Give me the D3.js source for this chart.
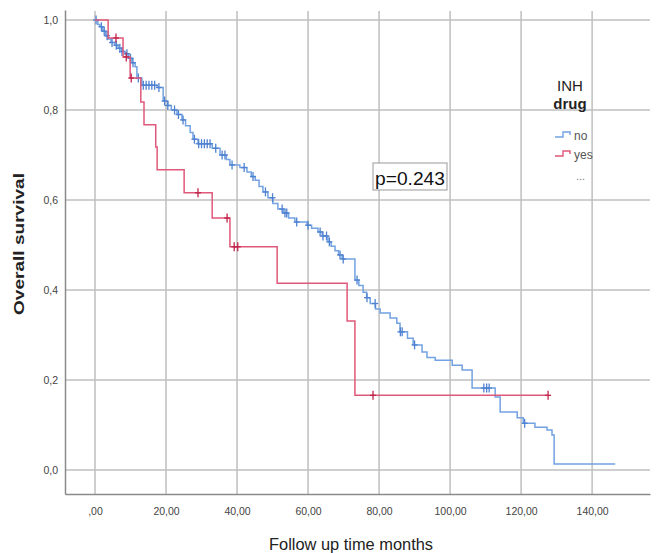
<!DOCTYPE html>
<meta charset="utf-8">
<style>
body { margin: 0; background: #fff; font-family: "Liberation Sans", Arial, sans-serif; }
.grid line { stroke: #bfbfbf; stroke-width: 1.5px; }
.tick text { fill: #444; font-size: 10.5px; font-family: "Liberation Sans Narrow", "Liberation Sans", Arial, sans-serif; }
</style>
<body>
<script src="https://cdnjs.cloudflare.com/ajax/libs/d3/7.8.5/d3.min.js"></script>
<script>
// Kaplan-Meier steps: [time (months), survival after the event]
var noSteps = [[0,1],[0.8,0.99],[1.4,0.985],[2.2,0.975],[3.0,0.965],[3.6,0.958],[4.5,0.95],[5.6,0.944],
  [6.5,0.937],[7.5,0.93],[8.5,0.925],[9.5,0.915],[10.4,0.905],[11.3,0.896],[11.8,0.871],[13.2,0.855],
  [17.5,0.85],[19.2,0.82],[20.5,0.81],[21.5,0.8],[23.1,0.79],[24.5,0.778],[25.5,0.765],[26.8,0.75],
  [27.6,0.735],[29,0.725],[33,0.715],[35.2,0.70],[37,0.69],[38.0,0.678],[40.8,0.672],[42.8,0.662],
  [44,0.652],[45.1,0.644],[46.2,0.63],[47.3,0.618],[48.7,0.605],[50.1,0.592],[51.5,0.58],[53,0.571],
  [54.5,0.56],[56.3,0.551],[59.7,0.544],[61,0.537],[62.8,0.529],[64,0.52],[65.6,0.507],[66.5,0.497],
  [67.6,0.487],[68.6,0.478],[69.6,0.469],[73.2,0.422],[74.3,0.41],[75.5,0.395],[76.5,0.383],[77.5,0.37],
  [79,0.358],[80.3,0.349],[83.1,0.338],[85,0.326],[85.9,0.307],[88,0.293],[89.6,0.278],[92.1,0.262],
  [93.5,0.25],[95.8,0.244],[100.6,0.233],[103.4,0.222],[106.2,0.182],[112.7,0.162],[114.1,0.129],
  [118.9,0.116],[120.6,0.104],[123.9,0.095],[127.3,0.089],[128.7,0.078],[129.3,0.0135]];
var noEnd = 146.5;
var noCensored = [0.3,1.8,2.6,3.4,4.8,6,7,7.6,9,10,10.7,12.2,13.6,14.4,15.2,16,16.8,18,19.6,20.5,22.4,
  23.5,24.8,28,29.2,30,30.8,31.6,32.4,34,35.8,36.6,38.6,42,44.5,48,50,52.7,53.5,54,56.8,60,63.4,64.2,
  65.2,66,69,69.9,73.8,76.6,78.9,86,86.5,90,109.5,110.3,111,121];

var yesSteps = [[0,1],[3.7,0.96],[7.9,0.918],[9.9,0.871],[12.9,0.818],[13.8,0.767],[17.1,0.718],
  [17.5,0.667],[25.1,0.616],[33,0.56],[38,0.496],[51.3,0.415],[71,0.331],[73.2,0.166]];
var yesEnd = 127.6;
var yesCensored = [5.9,8.8,10.2,29,37.2,39.2,40.2,78.3,127.6];

var xTicks = [0,20,40,60,80,100,120,140];
var xTickLabels = [",00","20,00","40,00","60,00","80,00","100,00","120,00","140,00"];
var yTicks = [0,0.2,0.4,0.6,0.8,1.0];
var yTickLabels = ["0,0","0,2","0,4","0,6","0,8","1,0"];

var width = 656, height = 553;
var pLeft = 65, pRight = 650, pTop = 11, pBottom = 494;

var svg = d3.select("body").append("svg")
    .attr("width", width)
    .attr("height", height);

var x = d3.scaleLinear().domain([-8.45, 156.3]).range([pLeft, pRight]);
var y = d3.scaleLinear().domain([-0.0533, 1.0222]).range([pBottom, 10]);

// grid
var grid = svg.append("g").attr("class", "grid");
grid.selectAll(".gx").data(xTicks).enter().append("line")
    .attr("x1", function(d) { return x(d); }).attr("x2", function(d) { return x(d); })
    .attr("y1", pTop).attr("y2", pBottom);
grid.selectAll(".gy").data(yTicks).enter().append("line")
    .attr("x1", pLeft).attr("x2", pRight)
    .attr("y1", function(d) { return y(d); }).attr("y2", function(d) { return y(d); });

// axes
svg.append("g")
    .attr("transform", "translate(0," + pBottom + ")")
    .call(d3.axisBottom(x).tickValues(xTicks).tickSize(0).tickPadding(14)
        .tickFormat(function(d, i) { return xTickLabels[i]; }))
    .call(function(g) { g.select(".domain").attr("stroke", "#8a8a8a").attr("stroke-width", 1.5); });

svg.append("g")
    .attr("transform", "translate(" + pLeft + ",0)")
    .call(d3.axisLeft(y).tickValues(yTicks).tickSize(0).tickPadding(7)
        .tickFormat(function(d, i) { return yTickLabels[i]; }))
    .call(function(g) { g.select(".domain").attr("stroke", "#8a8a8a").attr("stroke-width", 1.5); });

// step paths
function stepPath(steps, end) {
    var pts = steps.map(function(d) { return [x(d[0]), y(d[1])]; });
    pts.push([x(end), y(steps[steps.length - 1][1])]);
    return d3.line().curve(d3.curveStepAfter)(pts);
}
function survAt(steps, t) {
    var s = 1;
    steps.forEach(function(d) { if (d[0] <= t) s = d[1]; });
    return s;
}

function drawGroup(steps, end, censored, color, markColor) {
    svg.append("path")
        .attr("d", stepPath(steps, end))
        .attr("fill", "none")
        .attr("stroke", color)
        .attr("stroke-width", 1.5);
    var marks = svg.append("g").attr("stroke", markColor).attr("stroke-width", 1.3);
    marks.selectAll("line.v").data(censored).enter().append("line")
        .attr("x1", function(d) { return x(d); }).attr("x2", function(d) { return x(d); })
        .attr("y1", function(d) { return y(survAt(steps, d)) - 4.5; })
        .attr("y2", function(d) { return y(survAt(steps, d)) + 4.5; });
    marks.selectAll("line.h").data(censored).enter().append("line")
        .attr("x1", function(d) { return x(d) - 3; }).attr("x2", function(d) { return x(d) + 3; })
        .attr("y1", function(d) { return y(survAt(steps, d)); })
        .attr("y2", function(d) { return y(survAt(steps, d)); });
}

drawGroup(noSteps, noEnd, noCensored, "#72a2e2", "#4f82d0");
drawGroup(yesSteps, yesEnd, yesCensored, "#e0587a", "#c0244a");

// axis titles
svg.append("text")
    .attr("transform", "translate(24,244) rotate(-90)")
    .attr("text-anchor", "middle")
    .attr("font-size", 15).attr("font-weight", "bold").attr("fill", "#222")
    .attr("textLength", 142).attr("lengthAdjust", "spacingAndGlyphs")
    .text("Overall survival");
svg.append("text")
    .attr("x", 351).attr("y", 550)
    .attr("text-anchor", "middle")
    .attr("font-size", 16).attr("fill", "#222")
    .attr("textLength", 164).attr("lengthAdjust", "spacingAndGlyphs")
    .text("Follow up time months");

// p value box
svg.append("rect")
    .attr("x", 373).attr("y", 163).attr("width", 74).attr("height", 27)
    .attr("fill", "#fff").attr("stroke", "#999");
svg.append("text")
    .attr("x", 375).attr("y", 185)
    .attr("font-size", 18).attr("fill", "#111")
    .attr("textLength", 70).attr("lengthAdjust", "spacingAndGlyphs")
    .text("p=0.243");

// legend
var lg = svg.append("g");
lg.append("text").attr("x", 570).attr("y", 91).attr("text-anchor", "middle")
    .attr("font-size", 15).attr("fill", "#222").text("INH");
lg.append("text").attr("x", 570).attr("y", 109).attr("text-anchor", "middle")
    .attr("font-size", 15).attr("font-weight", "bold").attr("fill", "#222").text("drug");
var legendItems = [["no", "#72a2e2"], ["yes", "#e0587a"]];
legendItems.forEach(function(d, i) {
    var yy = 135 + i * 19;
    lg.append("path")
        .attr("d", "M555," + (yy + 2) + "h8v-5h7v3")
        .attr("fill", "none").attr("stroke", d[1]).attr("stroke-width", 1.4);
    lg.append("text").attr("x", 574).attr("y", yy + 5)
        .attr("font-size", 12).attr("fill", "#555").text(d[0]);
});
lg.append("text").attr("x", 576).attr("y", 180)
    .attr("font-size", 11).attr("fill", "#777").text("...");
</script>
</body>
